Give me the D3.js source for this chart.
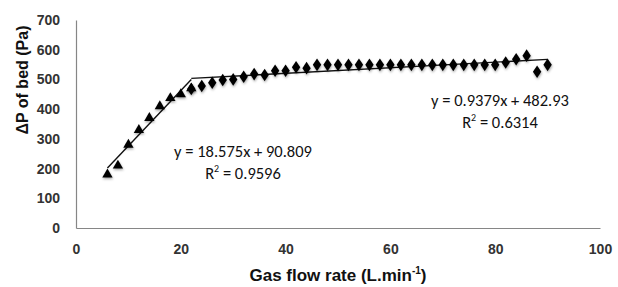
<!DOCTYPE html>
<html>
<head>
<meta charset="utf-8">
<script src="https://cdn.jsdelivr.net/npm/d3@7"></script>
<style>
  body { margin: 0; background: #fff; }
  svg { display: block; }
</style>
</head>
<body>
<svg id="chart" width="618" height="287"></svg>
<script>
// fixed bed region (triangles)
var xFixed = [6, 8, 10, 12, 14, 16, 18, 20, 22]
var yFixed = [180, 210, 280, 330, 370, 410, 437, 450, 470]

// fluidized region (diamonds)
var xFluid = [22, 24, 26, 28, 30, 32, 34, 36, 38, 40, 42, 44, 46, 48, 50, 52, 54, 56, 58,
  60, 62, 64, 66, 68, 70, 72, 74, 76, 78, 80, 82, 84, 86, 88, 90]
var yFluid = [468, 478, 489, 498, 500, 509, 518, 515, 529, 529, 541, 538, 549, 549, 549, 549, 549, 549, 549,
  549, 549, 549, 549, 549, 549, 549, 549, 549, 549, 549, 557, 568, 580, 526, 549]

var xTicks = [0, 20, 40, 60, 80, 100]
var yTicks = [0, 100, 200, 300, 400, 500, 600, 700]

var fit1 = { m: 18.575, b: 90.809, eq: "y = 18.575x + 90.809", r2: "0.9596" }
var fit2 = { m: 0.9379, b: 482.93, eq: "y = 0.9379x + 482.93", r2: "0.6314" }

var svg = d3.select("#chart")

var x = d3.scaleLinear().domain([0, 100]).range([76, 600])
var y = d3.scaleLinear().domain([0, 700]).range([228, 20])

var defs = svg.append("defs")
var f = defs.append("filter").attr("id", "shadow")
  .attr("x", "-50%").attr("y", "-50%").attr("width", "200%").attr("height", "200%")
f.append("feDropShadow")
  .attr("dx", 0.5).attr("dy", 1.5).attr("stdDeviation", 1.2)
  .attr("flood-color", "#000").attr("flood-opacity", 0.35)

// axes
var xAxis = svg.append("g")
  .attr("transform", "translate(0,228)")
  .call(d3.axisBottom(x).tickValues(xTicks).tickSize(0).tickPadding(16))
var yAxis = svg.append("g")
  .attr("transform", "translate(76,0)")
  .call(d3.axisLeft(y).tickValues(yTicks).tickSize(0).tickPadding(16))

svg.selectAll(".domain").attr("stroke", "#868686").attr("stroke-width", 1.2)
svg.selectAll(".tick text")
  .attr("font-family", "'Liberation Sans', Arial, sans-serif")
  .attr("font-weight", "bold")
  .attr("font-size", "14px")
  .attr("fill", "#333")

// trendlines
var line = d3.line().x(d => x(d[0])).y(d => y(d[1]))
function trend(xs, fit) {
  var lo = d3.min(xs), hi = d3.max(xs)
  return [[lo, fit.m * lo + fit.b], [hi, fit.m * hi + fit.b]]
}
svg.append("path")
  .datum(trend(xFixed, fit1))
  .attr("d", line)
  .attr("stroke", "#111")
  .attr("stroke-width", 1.4)
  .attr("fill", "none")
svg.append("path")
  .datum(trend(xFluid, fit2))
  .attr("d", line)
  .attr("stroke", "#111")
  .attr("stroke-width", 1.4)
  .attr("fill", "none")

// markers
var tri = d3.symbol().type(d3.symbolTriangle).size(46)
var dia = d3.symbol().type(d3.symbolDiamond).size(46)

svg.append("g").attr("filter", "url(#shadow)")
  .selectAll("path")
  .data(d3.zip(xFluid, yFluid))
  .enter()
  .append("path")
  .attr("d", dia)
  .attr("transform", d => `translate(${x(d[0])},${y(d[1])}) scale(1.15,1)`)
  .attr("fill", "#000")

svg.append("g").attr("filter", "url(#shadow)")
  .selectAll("path")
  .data(d3.zip(xFixed, yFixed))
  .enter()
  .append("path")
  .attr("d", tri)
  .attr("transform", d => `translate(${x(d[0])},${y(d[1])})`)
  .attr("fill", "#000")

// equation labels
function eqLabel(cx, yb, fit) {
  var t = svg.append("text")
    .attr("x", cx).attr("y", yb)
    .attr("text-anchor", "middle")
    .attr("font-family", "Carlito, Lato, 'Open Sans', sans-serif")
    .attr("font-size", "16.5px")
    .attr("fill", "#111")
    .text(fit.eq)
  var r = svg.append("text")
    .attr("x", cx).attr("y", yb + 22)
    .attr("text-anchor", "middle")
    .attr("font-family", "Carlito, Lato, 'Open Sans', sans-serif")
    .attr("font-size", "16.5px")
    .attr("fill", "#111")
  r.append("tspan").text("R")
  r.append("tspan").attr("dy", -7).attr("font-size", "10px").text("2")
  r.append("tspan").attr("dy", 7).text(" = " + fit.r2)
}
eqLabel(243, 157, fit1)
eqLabel(500, 106, fit2)

// axis titles
var xt = svg.append("text")
  .attr("x", 338).attr("y", 281)
  .attr("text-anchor", "middle")
  .attr("font-family", "'Liberation Sans', Arial, sans-serif")
  .attr("font-weight", "bold")
  .attr("font-size", "17px")
  .attr("fill", "#111")
xt.append("tspan").text("Gas flow rate (L.min")
xt.append("tspan").attr("dy", -7).attr("font-size", "10px").text("-1")
xt.append("tspan").attr("dy", 7).text(")")

svg.append("text")
  .attr("transform", "translate(28,80) rotate(-90)")
  .attr("text-anchor", "middle")
  .attr("font-family", "'Liberation Sans', Arial, sans-serif")
  .attr("font-weight", "bold")
  .attr("font-size", "16px")
  .attr("fill", "#111")
  .text("ΔP of bed (Pa)")
</script>
</body>
</html>
